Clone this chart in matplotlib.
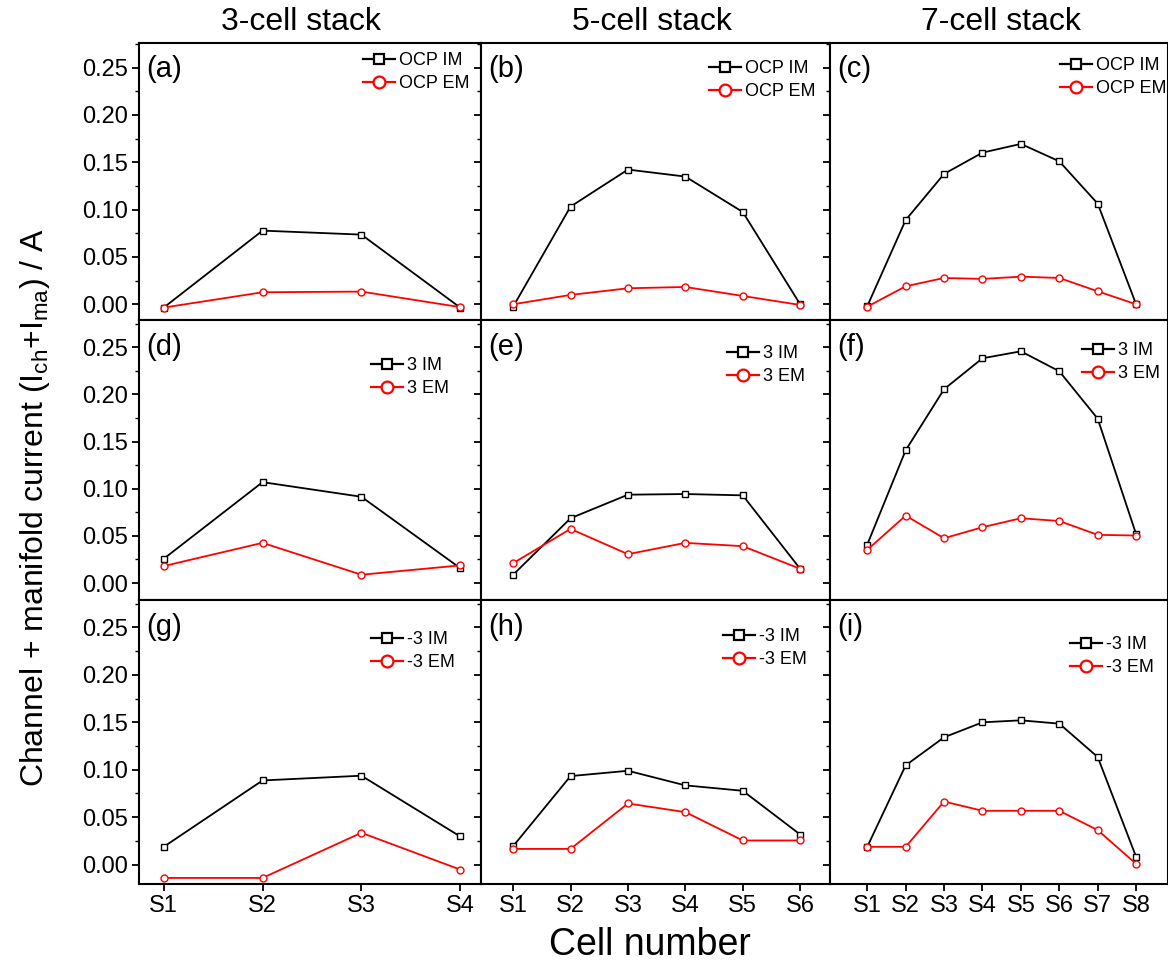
import matplotlib
matplotlib.use("Agg")
import matplotlib.pyplot as plt
from matplotlib.ticker import MultipleLocator, FormatStrFormatter

plt.rcParams['font.family'] = ['Liberation Sans', 'DejaVu Sans']
plt.rcParams['mathtext.default'] = 'regular'

col_titles = ["3-cell stack", "5-cell stack", "7-cell stack"]
cells3 = ["S1", "S2", "S3", "S4"]
cells5 = ["S1", "S2", "S3", "S4", "S5", "S6"]
cells7 = ["S1", "S2", "S3", "S4", "S5", "S6", "S7", "S8"]
panel_labels = ["(a)", "(b)", "(c)", "(d)", "(e)", "(f)", "(g)", "(h)", "(i)"]
row_prefix = ["OCP", "3", "-3"]

# Row 1: OCP
a_im = [-0.0035, 0.0778, 0.0736, -0.0035]
a_em = [-0.0035, 0.0127, 0.0134, -0.003]
b_im = [-0.0025, 0.1032, 0.1423, 0.1349, 0.0975, 0.0]
b_em = [0.0, 0.0099, 0.0169, 0.0183, 0.0088, -0.0007]
c_im = [-0.002, 0.089, 0.1377, 0.1602, 0.1694, 0.151, 0.1063, 0.0]
c_em = [-0.0025, 0.019, 0.0278, 0.0268, 0.0292, 0.0278, 0.0137, 0.0]
# Row 2: +3
d_im = [0.0257, 0.107, 0.0915, 0.0158]
d_em = [0.018, 0.0426, 0.0088, 0.0187]
e_im = [0.0088, 0.0687, 0.0937, 0.0944, 0.093, 0.0151]
e_em = [0.0211, 0.0574, 0.0306, 0.0426, 0.0391, 0.0151]
f_im = [0.0408, 0.1408, 0.2056, 0.2384, 0.2458, 0.2246, 0.1743, 0.0518]
f_em = [0.0352, 0.0715, 0.0475, 0.0592, 0.0687, 0.0658, 0.0511, 0.0504]
# Row 3: -3
g_im = [0.0187, 0.0887, 0.0937, 0.0296]
g_em = [-0.0141, -0.0141, 0.0335, -0.0053]
h_im = [0.0194, 0.0933, 0.0989, 0.0835, 0.0778, 0.0317]
h_em = [0.0165, 0.0165, 0.0644, 0.0553, 0.0254, 0.0254]
i_im = [0.0187, 0.1046, 0.1342, 0.15, 0.1521, 0.1486, 0.1134, 0.0081]
i_em = [0.0187, 0.0187, 0.0665, 0.0567, 0.0567, 0.0567, 0.0363, 0.0007]

cells = [cells3, cells5, cells7]
im_data = [[a_im, b_im, c_im], [d_im, e_im, f_im], [g_im, h_im, i_im]]
em_data = [[a_em, b_em, c_em], [d_em, e_em, f_em], [g_em, h_em, i_em]]

W, H = 1168, 972
fig = plt.figure(figsize=(W / 100, H / 100), dpi=100)

col_l = [139, 481, 830]
col_r = [481, 830, 1168]
row_t = [43, 320, 600]
row_b = [320, 600, 884]
xlims = [(0.75, 4.21), (0.44, 6.52), (0.03, 8.83)]
ylims = [(-0.0166, 0.276), (-0.018, 0.279), (-0.0205, 0.279)]
# legend anchors (pixel x of handle start, pixel y of first row centre)
leg_pos = [[(363, 64), (709, 72), (1060, 69)],
           [(371, 369), (727, 357), (1082, 354)],
           [(371, 643), (723, 640), (1070, 648)]]
title_x = [301, 652, 1001]

for r in range(3):
    for c in range(3):
        x0, x1 = col_l[c], col_r[c]
        y0, y1 = row_t[r], row_b[r]
        ax = fig.add_axes([x0 / W, 1 - y1 / H, (x1 - x0) / W, (y1 - y0) / H])
        xs = list(range(1, len(cells[c]) + 1))
        ax.plot(xs, im_data[r][c], color='black', lw=1.3, marker='s',
                ms=4.2, mfc='white', mec='black', mew=1.0,
                label=f"{row_prefix[r]} IM")
        ax.plot(xs, em_data[r][c], color='red', lw=1.3, marker='o',
                ms=5, mfc='white', mec='red', mew=1.0,
                label=f"{row_prefix[r]} EM")
        ax.set_xlim(*xlims[c])
        ax.set_ylim(*ylims[r])
        ax.set_xticks(xs)
        if r == 2:
            ax.set_xticklabels(cells[c], fontsize=17)
        else:
            ax.set_xticklabels([])
        ax.yaxis.set_major_locator(MultipleLocator(0.05))
        ax.yaxis.set_minor_locator(MultipleLocator(0.025))
        ax.yaxis.set_major_formatter(FormatStrFormatter('%.2f'))
        if c == 0:
            ax.tick_params(axis='y', labelsize=17)
        else:
            ax.tick_params(axis='y', labelleft=False)
        ax.tick_params(which='major', direction='out', length=5, width=1.3, pad=3)
        ax.tick_params(which='minor', direction='out', length=3, width=1.0)
        for s in ax.spines.values():
            s.set_linewidth(1.5)
        ax.text(0.02, 0.955, panel_labels[r * 3 + c], transform=ax.transAxes,
                fontsize=21, va='top', ha='left')
        lx, ly = leg_pos[r][c]
        leg = ax.legend(loc='upper left',
                        bbox_to_anchor=(lx / W, 1 - (ly - 12) / H),
                        bbox_transform=fig.transFigure,
                        frameon=False, fontsize=13, handlelength=1.75,
                        handletextpad=0.25, labelspacing=0.35, borderpad=0,
                        borderaxespad=0, markerscale=1.7)
        for h in leg.get_lines():
            h.set_linewidth(1.6)
            h.set_markeredgewidth(1.6)

for c in range(3):
    fig.text(title_x[c] / W, 1 - 22 / H, col_titles[c], fontsize=23,
             ha='center', va='center')

fig.text(650 / W, 1 - 945 / H, "Cell number", fontsize=27, ha='center', va='center')
fig.text(35 / W, 1 - 508 / H, "Channel + manifold current (I$_{ch}$+I$_{ma}$) / A",
         fontsize=23, rotation=90, ha='center', va='center')

fig.savefig("out.png", dpi=100)
